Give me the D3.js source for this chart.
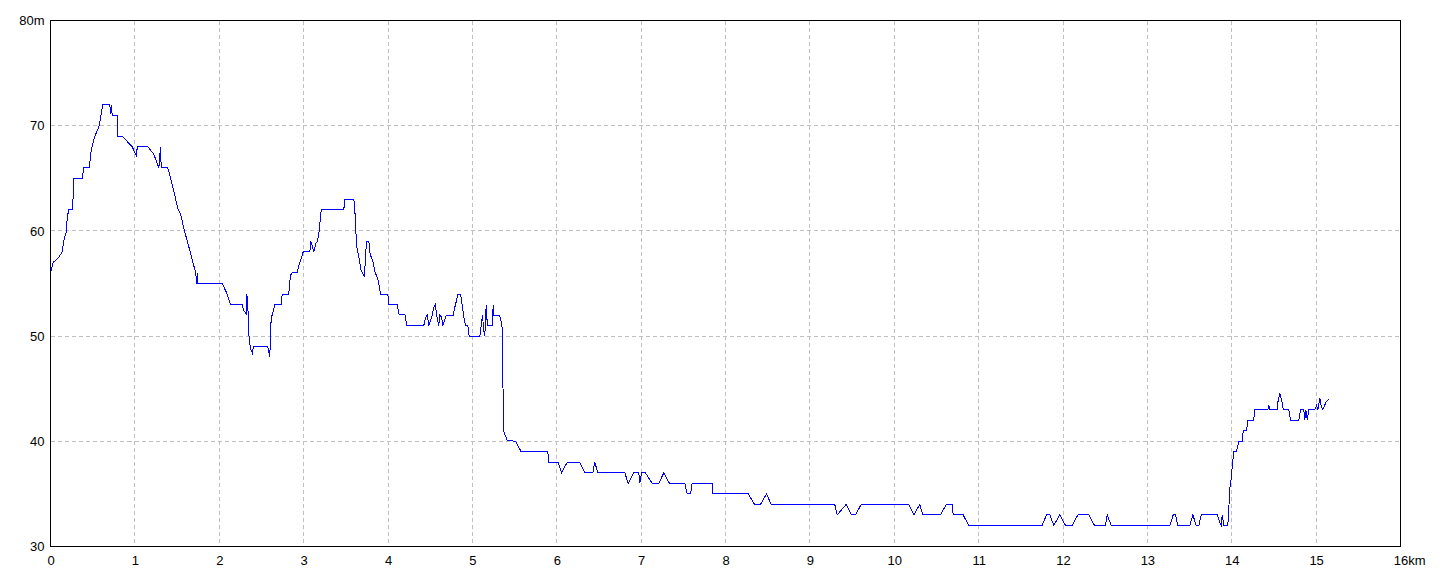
<!DOCTYPE html>
<html>
<head>
<meta charset="utf-8">
<script src="https://cdn.jsdelivr.net/npm/d3@7"></script>
<style>
  html, body { margin: 0; padding: 0; background: #fff; }
  svg { display: block; }
  text { font-family: "Liberation Sans", Arial, sans-serif; font-size: 13px; fill: #000; }
</style>
</head>
<body>
<svg id="chart" width="1440" height="576"></svg>
<script>
// Distance along route (km)
const dist = [
0.000,0.032,0.098,0.139,0.158,0.190,0.198,0.217,0.257,0.276,0.276,0.383,0.388,0.459,0.466,0.482,0.506,0.525,0.553,0.577,
0.601,0.620,0.703,0.711,0.723,0.731,0.798,0.798,0.850,0.968,0.996,1.019,1.028,1.153,1.224,1.284,1.304,1.312,1.390,1.414,
1.461,1.509,1.541,1.588,1.639,1.698,1.722,1.730,1.739,1.746,2.035,2.094,2.133,2.272,2.291,2.323,2.327,2.338,2.350,2.370,
2.391,2.394,2.403,2.575,2.587,2.599,2.607,2.616,2.628,2.658,2.734,2.746,2.824,2.836,2.844,2.865,2.924,2.943,2.963,2.995,
3.073,3.085,3.101,3.121,3.144,3.161,3.180,3.192,3.208,3.476,3.488,3.595,3.607,3.618,3.627,3.642,3.662,3.682,3.706,3.721,
3.730,3.745,3.773,3.784,3.801,3.825,3.844,3.872,3.891,3.911,3.998,4.009,4.109,4.128,4.207,4.219,4.424,4.444,4.465,4.484,
4.504,4.524,4.543,4.563,4.575,4.602,4.614,4.634,4.650,4.670,4.693,4.773,4.788,4.812,4.827,4.859,4.879,4.898,4.919,4.946,
4.962,5.088,5.105,5.120,5.135,5.147,5.164,5.176,5.183,5.235,5.247,5.254,5.313,5.333,5.354,5.360,5.365,5.373,5.413,5.511,
5.579,5.894,5.906,6.017,6.056,6.124,6.270,6.332,6.427,6.451,6.487,6.807,6.847,6.913,6.973,6.984,7.004,7.052,7.131,7.209,
7.269,7.336,7.518,7.546,7.585,7.605,7.843,7.849,8.269,8.344,8.415,8.486,8.542,9.295,9.324,9.430,9.493,9.541,9.608,10.173,
10.232,10.303,10.338,10.548,10.616,10.687,10.699,10.817,10.883,11.753,11.804,11.844,11.891,11.962,12.030,12.109,12.176,12.306,12.373,12.504,
12.524,12.571,13.266,13.306,13.333,13.361,13.503,13.539,13.579,13.610,13.638,13.828,13.858,13.875,13.887,13.906,13.953,13.965,13.977,13.993,
14.005,14.017,14.024,14.056,14.072,14.084,14.124,14.136,14.175,14.190,14.261,14.270,14.427,14.439,14.451,14.539,14.551,14.570,14.590,14.610,
14.676,14.696,14.795,14.815,14.854,14.866,14.878,14.895,14.913,14.984,15.004,15.020,15.044,15.060,15.079,15.099,15.123,15.150
];
// Elevation (m)
const elev = [
56,57,57.5,58,59.1,60,61.3,62,62,64,65,65,66,66,66.5,67.6,68.4,69,69.5,70,
71.1,72,72,71.1,72,71,71,69,69,68,67.5,67.1,68,68,67.3,66,68,66,66,65.3,
63.8,62.1,61.6,60,58.5,56.7,56,55,56,55,55,54,53,53,52.4,52.1,54,53,50.2,48.8,
48.5,48.2,49,49,48.5,48,50,51.8,52,53,53,54,54,55.1,55.8,56,56,56.7,57.2,58,
58,59,58.6,58,58.8,59,59.7,60.7,62,62,63,63,62,60.2,58.6,58,57.2,56.2,55.9,55.6,
57,59,59,58,57.5,57,56.1,55.6,55,54,54,53,53,52.1,52,51,51,51.7,52,51,
51.5,52,52.7,53,52,51,52,51.8,51,51.5,52,52,52.6,53.4,54,54,53,51.8,51,51,
50,50,51,52,50.5,50,53,51.2,51,51,53,52,52,51.7,50.7,49,42.5,40.9,40.1,40,
39,39,38,38,37,38,38,37,37,38,37,37,36,37,37,36,37,37,36,36,
37,36,36,35,35,36,36,35,35,34,34,35,34,34,33,34,33,33,34,34,
33,34,33,33,34,34,33,33,32,32,33,33,32,33,32,32,33,33,32,32,
33,32,32,33,33,32,32,33,32,32,33,33,32.3,32,33,32,32,33.6,35.5,36.4,
37.5,38.5,39,39,39.6,40,40,41,41,42,42,43,43,43.4,43,43,44,44.5,44,43,
43,42,42,43,43,42,43,42,43,43,43.4,43,44.1,43.4,43,43.4,43.8,44
];
// Axis ticks
const xTicks = [0,1,2,3,4,5,6,7,8,9,10,11,12,13,14,15,16];
const yTicks = [30,40,50,60,70,80];
const xUnit = "km";
const yUnit = "m";

const svg = d3.select("#chart");
const x = d3.scaleLinear().domain([0, 16]).range([50.5, 1400.5]);
const y = d3.scaleLinear().domain([30, 80]).range([546.5, 20.5]);

// grid
const grid = svg.append("g");
grid.selectAll("line.v").data(xTicks.filter(d => d > 0 && d < 16)).join("line")
  .attr("x1", d => Math.round(x(d) - 0.5) + 0.5).attr("x2", d => Math.round(x(d) - 0.5) + 0.5)
  .attr("y1", y(80)).attr("y2", y(30))
  .attr("stroke", "#c0c0c0").attr("stroke-width", 1).attr("stroke-dasharray", "4,3")
  .attr("shape-rendering", "crispEdges");
grid.selectAll("line.h").data(yTicks.filter(d => d > 30 && d < 80)).join("line")
  .attr("y1", d => Math.round(y(d) - 0.5) + 0.5).attr("y2", d => Math.round(y(d) - 0.5) + 0.5)
  .attr("x1", x(0)).attr("x2", x(16))
  .attr("stroke", "#c0c0c0").attr("stroke-width", 1).attr("stroke-dasharray", "4,3")
  .attr("shape-rendering", "crispEdges");

// profile line
const pts = dist.map((d, i) => [d, elev[i]]);
const line = d3.line().x(d => x(d[0])).y(d => y(d[1]));
svg.append("path").datum(pts)
  .attr("d", line)
  .attr("fill", "none").attr("stroke", "#0000ff").attr("stroke-width", 1)
  .attr("shape-rendering", "crispEdges");

// frame
svg.append("rect")
  .attr("x", x(0)).attr("y", y(80))
  .attr("width", x(16) - x(0)).attr("height", y(30) - y(80))
  .attr("fill", "none").attr("stroke", "#000").attr("stroke-width", 1)
  .attr("shape-rendering", "crispEdges");

// x axis labels (axis with no tick lines)
const xAxis = d3.axisBottom(x).tickValues(xTicks).tickSize(0).tickPadding(0)
  .tickFormat(d => String(d));
const gx = svg.append("g").attr("transform", `translate(0,${y(30)})`).call(xAxis);
gx.select(".domain").remove();
gx.selectAll("text").attr("dy", null).attr("y", 18)
  .style("font-family", "'Liberation Sans', Arial, sans-serif").style("font-size", "13px");
// append unit to last x label, keeping the number centred on the tick
gx.selectAll(".tick").filter(d => d === 16).each(function() {
  const t = d3.select(this).select("text");
  const w = t.node().getComputedTextLength();
  t.attr("text-anchor", "start").attr("x", -w / 2).text(t.text() + xUnit);
});

// y axis labels
const yAxis = d3.axisLeft(y).tickValues(yTicks).tickSize(0).tickPadding(6)
  .tickFormat(d => d === 80 ? d + yUnit : String(d));
const gy = svg.append("g").attr("transform", `translate(${x(0)},0)`).call(yAxis);
gy.select(".domain").remove();
gy.selectAll("text")
  .style("font-family", "'Liberation Sans', Arial, sans-serif").style("font-size", "13px");
</script>
</body>
</html>
